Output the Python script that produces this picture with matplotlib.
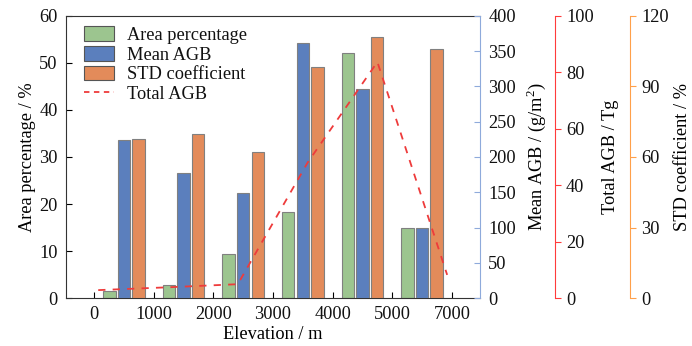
import numpy as np
import matplotlib
matplotlib.use("Agg")
import matplotlib.pyplot as plt
from matplotlib.patches import Patch
from matplotlib.lines import Line2D

plt.rcParams['font.family'] = ['Liberation Serif', 'DejaVu Serif']
plt.rcParams['font.size'] = 13.2
plt.rcParams['text.color'] = '#111111'
plt.rcParams['mathtext.fontset'] = 'custom'
plt.rcParams['mathtext.rm'] = 'Liberation Serif'

# bins between elevation ticks (last one covers 5000-7000)
tick_labels = ["0", "1000", "2000", "3000", "4000", "5000", "7000"]
bin_pos = [0.5, 1.5, 2.5, 3.5, 4.5, 5.5]
area_pct = [1.55, 2.8, 9.4, 18.3, 52.1, 14.9]
mean_agb = [224, 178, 149, 362, 296, 100]
std_coef = [67.6, 69.8, 62.2, 98.4, 110.9, 106.1]
total_x = [0.07, 1.24, 2.41, 3.58, 4.75, 5.92]
total_agb = [2.8, 3.8, 4.9, 48.0, 83.7, 8.2]

c_green = '#9cc58f'
c_blue = '#5b7fbd'
c_orange = '#e38b5a'
c_red = '#ee3b3b'
c_edge = '#808080'
sp_blue = '#8eaadb'
sp_red = '#ff3b3b'
sp_orange = '#ffa04a'

fig = plt.figure(figsize=(6.92, 3.46), dpi=100)
ax = fig.add_axes([0.0954, 0.1387, 0.5982, 0.8151])
ax_mean = ax.twinx()
ax_std = ax.twinx()
ax_tot = ax.twinx()

w = 0.21
off = 0.245
x = np.array(bin_pos)
ax.bar(x - off, area_pct, w, color=c_green, edgecolor=c_edge, linewidth=0.8)
ax_mean.bar(x, mean_agb, w, color=c_blue, edgecolor=c_edge, linewidth=0.8)
ax_std.bar(x + off, std_coef, w, color=c_orange, edgecolor=c_edge, linewidth=0.8)
ax_tot.plot(total_x, total_agb, color=c_red, linestyle=(0, (4, 4)), linewidth=1.3)

ax.set_xlim(-0.47, 6.47)
ax.set_ylim(0, 60)
ax.set_yticks(np.arange(0, 61, 10))
ax.set_xticks(range(len(tick_labels)))
ax.set_xticklabels(tick_labels)
ax.tick_params(direction='in', length=4, width=0.8, top=False, right=False, pad=6,
               labelcolor='#111111')
ax.set_xlabel("Elevation / m", labelpad=2)
ax.set_ylabel("Area percentage / %", labelpad=2)
ax.spines['right'].set_visible(False)
for s in ['left', 'bottom', 'top']:
    ax.spines[s].set_color('#333333')

ax_mean.set_ylim(0, 400)
ax_mean.set_yticks(np.arange(0, 401, 50))
ax_mean.tick_params(axis='y', direction='in', length=4, width=0.8, color=sp_blue, pad=6,
                    labelcolor='#111111')
ax_mean.spines['right'].set_color(sp_blue)
ax_mean.set_ylabel("Mean AGB / (g/m$^2$)", labelpad=6)

ax_tot.set_ylim(0, 100)
ax_tot.set_yticks(np.arange(0, 101, 20))
ax_tot.spines['right'].set_position(('axes', 1.181))
ax_tot.spines['right'].set_color(sp_red)
ax_tot.tick_params(axis='y', direction='out', length=4, width=0.8, color=sp_red, pad=4,
                   labelcolor='#111111')
ax_tot.set_ylabel("Total AGB / Tg", labelpad=6)

ax_std.set_ylim(0, 120)
ax_std.set_yticks(np.arange(0, 121, 30))
ax_std.spines['right'].set_position(('axes', 1.362))
ax_std.spines['right'].set_color(sp_orange)
ax_std.tick_params(axis='y', direction='out', length=4, width=0.8, color=sp_orange, pad=4,
                   labelcolor='#111111')
ax_std.set_ylabel("STD coefficient / %", labelpad=4)

for a in [ax_mean, ax_std, ax_tot]:
    for s in ['left', 'top', 'bottom']:
        a.spines[s].set_visible(False)

handles = [Patch(facecolor=c_green, edgecolor='#555555', linewidth=0.8),
           Patch(facecolor=c_blue, edgecolor='#555555', linewidth=0.8),
           Patch(facecolor=c_orange, edgecolor='#555555', linewidth=0.8),
           Line2D([], [], color=c_red, linestyle=(0, (3, 2.5)), linewidth=1.3)]
labels = ["Area percentage", "Mean AGB", "STD coefficient", "Total AGB"]
ax_tot.legend(handles, labels, loc='upper left', bbox_to_anchor=(0.02, 1.0),
              frameon=False, handlelength=1.6, handleheight=0.85,
              labelspacing=0.12, handletextpad=0.7, borderaxespad=0.15)

fig.savefig("out.png", dpi=100)
